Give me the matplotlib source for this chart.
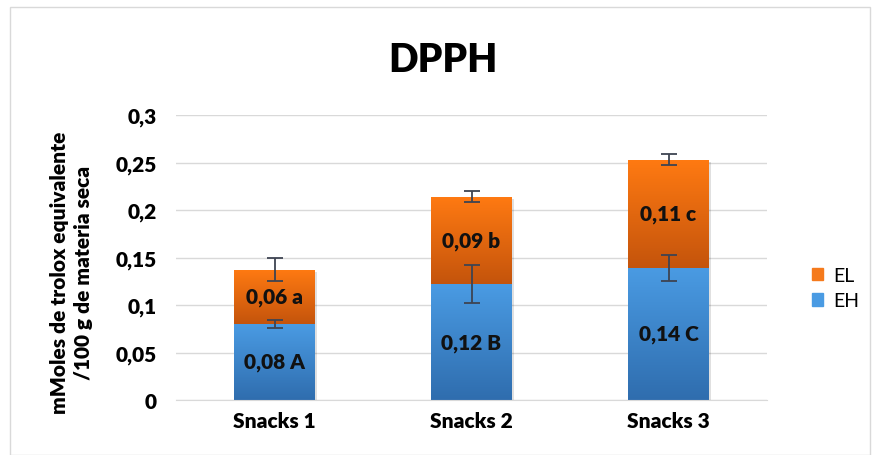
import matplotlib
matplotlib.use('Agg')
import matplotlib.pyplot as plt
import numpy as np
from matplotlib.colors import LinearSegmentedColormap
from matplotlib.patches import Rectangle

plt.rcParams['font.family'] = ['Lato', 'DejaVu Sans']

categorias = ['Snacks 1', 'Snacks 2', 'Snacks 3']
eh = [0.080, 0.122, 0.139]
el = [0.057, 0.092, 0.114]
eh_err = [0.004, 0.020, 0.014]
el_err = [0.012, 0.006, 0.006]
eh_txt = ['0,08 A', '0,12 B', '0,14 C']
el_txt = ['0,06 a', '0,09 b', '0,11 c']
yticks = [0, 0.05, 0.1, 0.15, 0.2, 0.25, 0.3]
ytick_txt = ['0', '0,05', '0,1', '0,15', '0,2', '0,25', '0,3']

fig = plt.figure(figsize=(8.72, 4.56), dpi=100)
ax = fig.add_axes([176/872, 55/456, 591/872, 285/456])

x = np.arange(len(categorias))
w = 0.41
b1 = ax.bar(x, eh, w, color='#4A9BE3', label='EH', zorder=2)
b2 = ax.bar(x, el, w, bottom=eh, color='#F57A1C', label='EL', zorder=2)

# gradientes tipo excel
cm_azul = LinearSegmentedColormap.from_list('az', ['#2F6DAE', '#4A9BE3'])
cm_nar = LinearSegmentedColormap.from_list('na', ['#C4540C', '#FF7A12'])
grad = np.linspace(0, 1, 256).reshape(-1, 1)
for bars, cm in [(b1, cm_azul), (b2, cm_nar)]:
    for p in bars:
        x0, y0 = p.get_x(), p.get_y()
        x1, y1 = x0 + p.get_width(), y0 + p.get_height()
        sh = Rectangle((x0 + 0.01, y0 - 0.002), p.get_width(), p.get_height(),
                       color='#000000', alpha=0.12, zorder=1, lw=0)
        ax.add_patch(sh)
        im = ax.imshow(grad, cmap=cm, extent=[x0, x1, y0, y1], origin='lower',
                       aspect='auto', zorder=2.5)
        im.set_clip_path(p)

ax.errorbar(x, eh, yerr=eh_err, fmt='none', ecolor='#3E4452', elinewidth=1.3,
            capsize=6, capthick=1.3, zorder=4)
tot = np.array(eh) + np.array(el)
ax.errorbar(x, tot, yerr=el_err, fmt='none', ecolor='#3E4452', elinewidth=1.3,
            capsize=6, capthick=1.3, zorder=4)

for i in range(len(x)):
    ax.text(x[i], eh[i] / 2, eh_txt[i], ha='center', va='center',
            fontsize=15, fontweight='heavy', color='#111111', zorder=5)
    ax.text(x[i], eh[i] + el[i] / 2, el_txt[i], ha='center', va='center',
            fontsize=15, fontweight='heavy', color='#111111', zorder=5)

ax.set_xlim(-0.5, 2.5)
ax.set_ylim(0, 0.3)
ax.set_yticks(yticks)
ax.set_yticklabels(ytick_txt, fontsize=15, fontweight='heavy')
ax.set_xticks(x)
ax.set_xticklabels(categorias, fontsize=15, fontweight='heavy')
ax.tick_params(axis='y', length=0, pad=14)
ax.tick_params(axis='x', length=0, pad=8)
ax.grid(axis='y', color='#D9D9D9', lw=1, zorder=0)
ax.set_axisbelow(True)
for s in ['top', 'right', 'left']:
    ax.spines[s].set_visible(False)
ax.spines['bottom'].set_color('#D9D9D9')

ax.set_ylabel('mMoles de trolox equivalente\n/100 g de materia seca',
              fontsize=15, fontweight='heavy', linespacing=1.3)
ax.yaxis.set_label_coords(-0.14, 0.45)
fig.text(443/872, 1 - 60/456, 'DPPH', ha='center', va='center',
         fontsize=28, fontweight='heavy')

h, l = ax.get_legend_handles_labels()
leg = fig.legend(h[::-1], l[::-1], loc='center left',
                 bbox_to_anchor=(794/872, 1 - 289/456), frameon=False,
                 fontsize=14, handlelength=0.6, handleheight=0.6,
                 handletextpad=0.5, labelspacing=0.45)
leg.legend_handles[0].set_color('#F57A1C')
leg.legend_handles[1].set_color('#4A9BE3')

fig.patches.append(Rectangle((10/872, 0), 1 - 10/872 - 2/872, 1 - 8/456,
                             transform=fig.transFigure, fill=False,
                             ec='#D9D9D9', lw=1))

fig.savefig('out.png', dpi=100)
